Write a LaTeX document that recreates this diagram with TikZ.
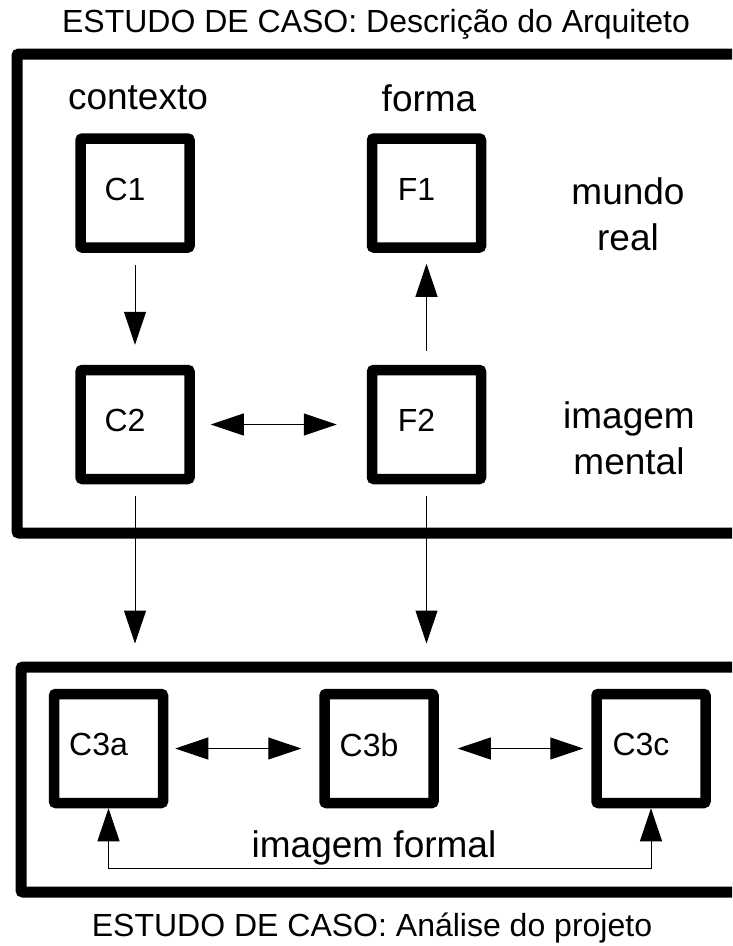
\documentclass[tikz,border=0pt]{standalone}
\usepackage{fontspec}
\setmainfont{Liberation Sans}
\usetikzlibrary{arrows.meta}

\begin{document}
\begin{tikzpicture}[x=1pt, y=-1pt,
    caixa/.style={draw, line width=10.5pt, rounded corners=2pt, minimum size=109pt, inner sep=0pt,
      font=\fontsize{32}{38}\selectfont, text depth=8pt, execute at begin node={\hspace*{-20pt}}},
    moldura/.style={draw, line width=11pt, rounded corners=2pt, inner sep=0pt},
    rotulo/.style={font=\fontsize{37}{46}\selectfont, align=center},
    titulo/.style={font=\fontsize{32}{38}\selectfont},
    seta/.style={line width=1pt, -{Triangle[length=33pt,width=22pt]}},
    setas/.style={line width=1pt, {Triangle[length=33pt,width=22pt]}-{Triangle[length=33pt,width=22pt]}}]
  \useasboundingbox (0,0) rectangle (732,946);
  \clip (0,0) rectangle (732,946);
  % molduras (cortadas a direita)
  \node[moldura, minimum width=743pt, minimum height=479pt] (real) at (388.5,293.5) {};
  \node[moldura, minimum width=739pt, minimum height=225pt] (formal) at (390.5,779.5) {};
  \node[titulo] (tit1) at (376,24) {ESTUDO DE CASO: Descrição do Arquiteto};
  \node[titulo] (tit2) at (372,928) {ESTUDO DE CASO: Análise do projeto};
  % caixas
  \node[caixa] (C1) at (135,193) {C1};
  \node[caixa] (F1) at (426.5,193) {F1};
  \node[caixa] (C2) at (135,424.5) {C2};
  \node[caixa] (F2) at (426.5,424.5) {F2};
  \node[caixa] (C3a) at (108.5,748.5) {C3a};
  \node[caixa] (C3b) at (379,748.5) {C3b};
  \node[caixa] (C3c) at (651,748.5) {C3c};
  % rotulos
  \node[rotulo] (contexto) at (138,98) {contexto};
  \node[rotulo] (forma) at (429,98) {forma};
  \node[rotulo] (mundo) at (628,214) {mundo\\real};
  \node[rotulo] (mental) at (629,438) {imagem\\mental};
  \node[rotulo] (imgformal) at (374,848) {imagem formal};
  % setas
  \draw[seta, shorten <=12pt, shorten >=20pt] (C1) -- (C2);
  \draw[seta, shorten <=14pt, shorten >=11pt] (F2) -- (F1);
  \draw[setas, shorten <=16pt, shorten >=30pt] (C2) -- (F2);
  \draw[seta, shorten <=12pt, shorten >=18pt] (C2) -- (C2 |- formal.north);
  \draw[seta, shorten <=12pt, shorten >=18pt] (F2) -- (F2 |- formal.north);
  \draw[setas, shorten <=7pt, shorten >=18pt] (C3a) -- (C3b);
  \draw[setas, shorten <=19pt, shorten >=8pt] (C3b) -- (C3c);
  \coordinate (volta) at (379,868);
  \draw[setas] (C3a.south) |- (volta) -| (C3c.south);
\end{tikzpicture}
\end{document}
